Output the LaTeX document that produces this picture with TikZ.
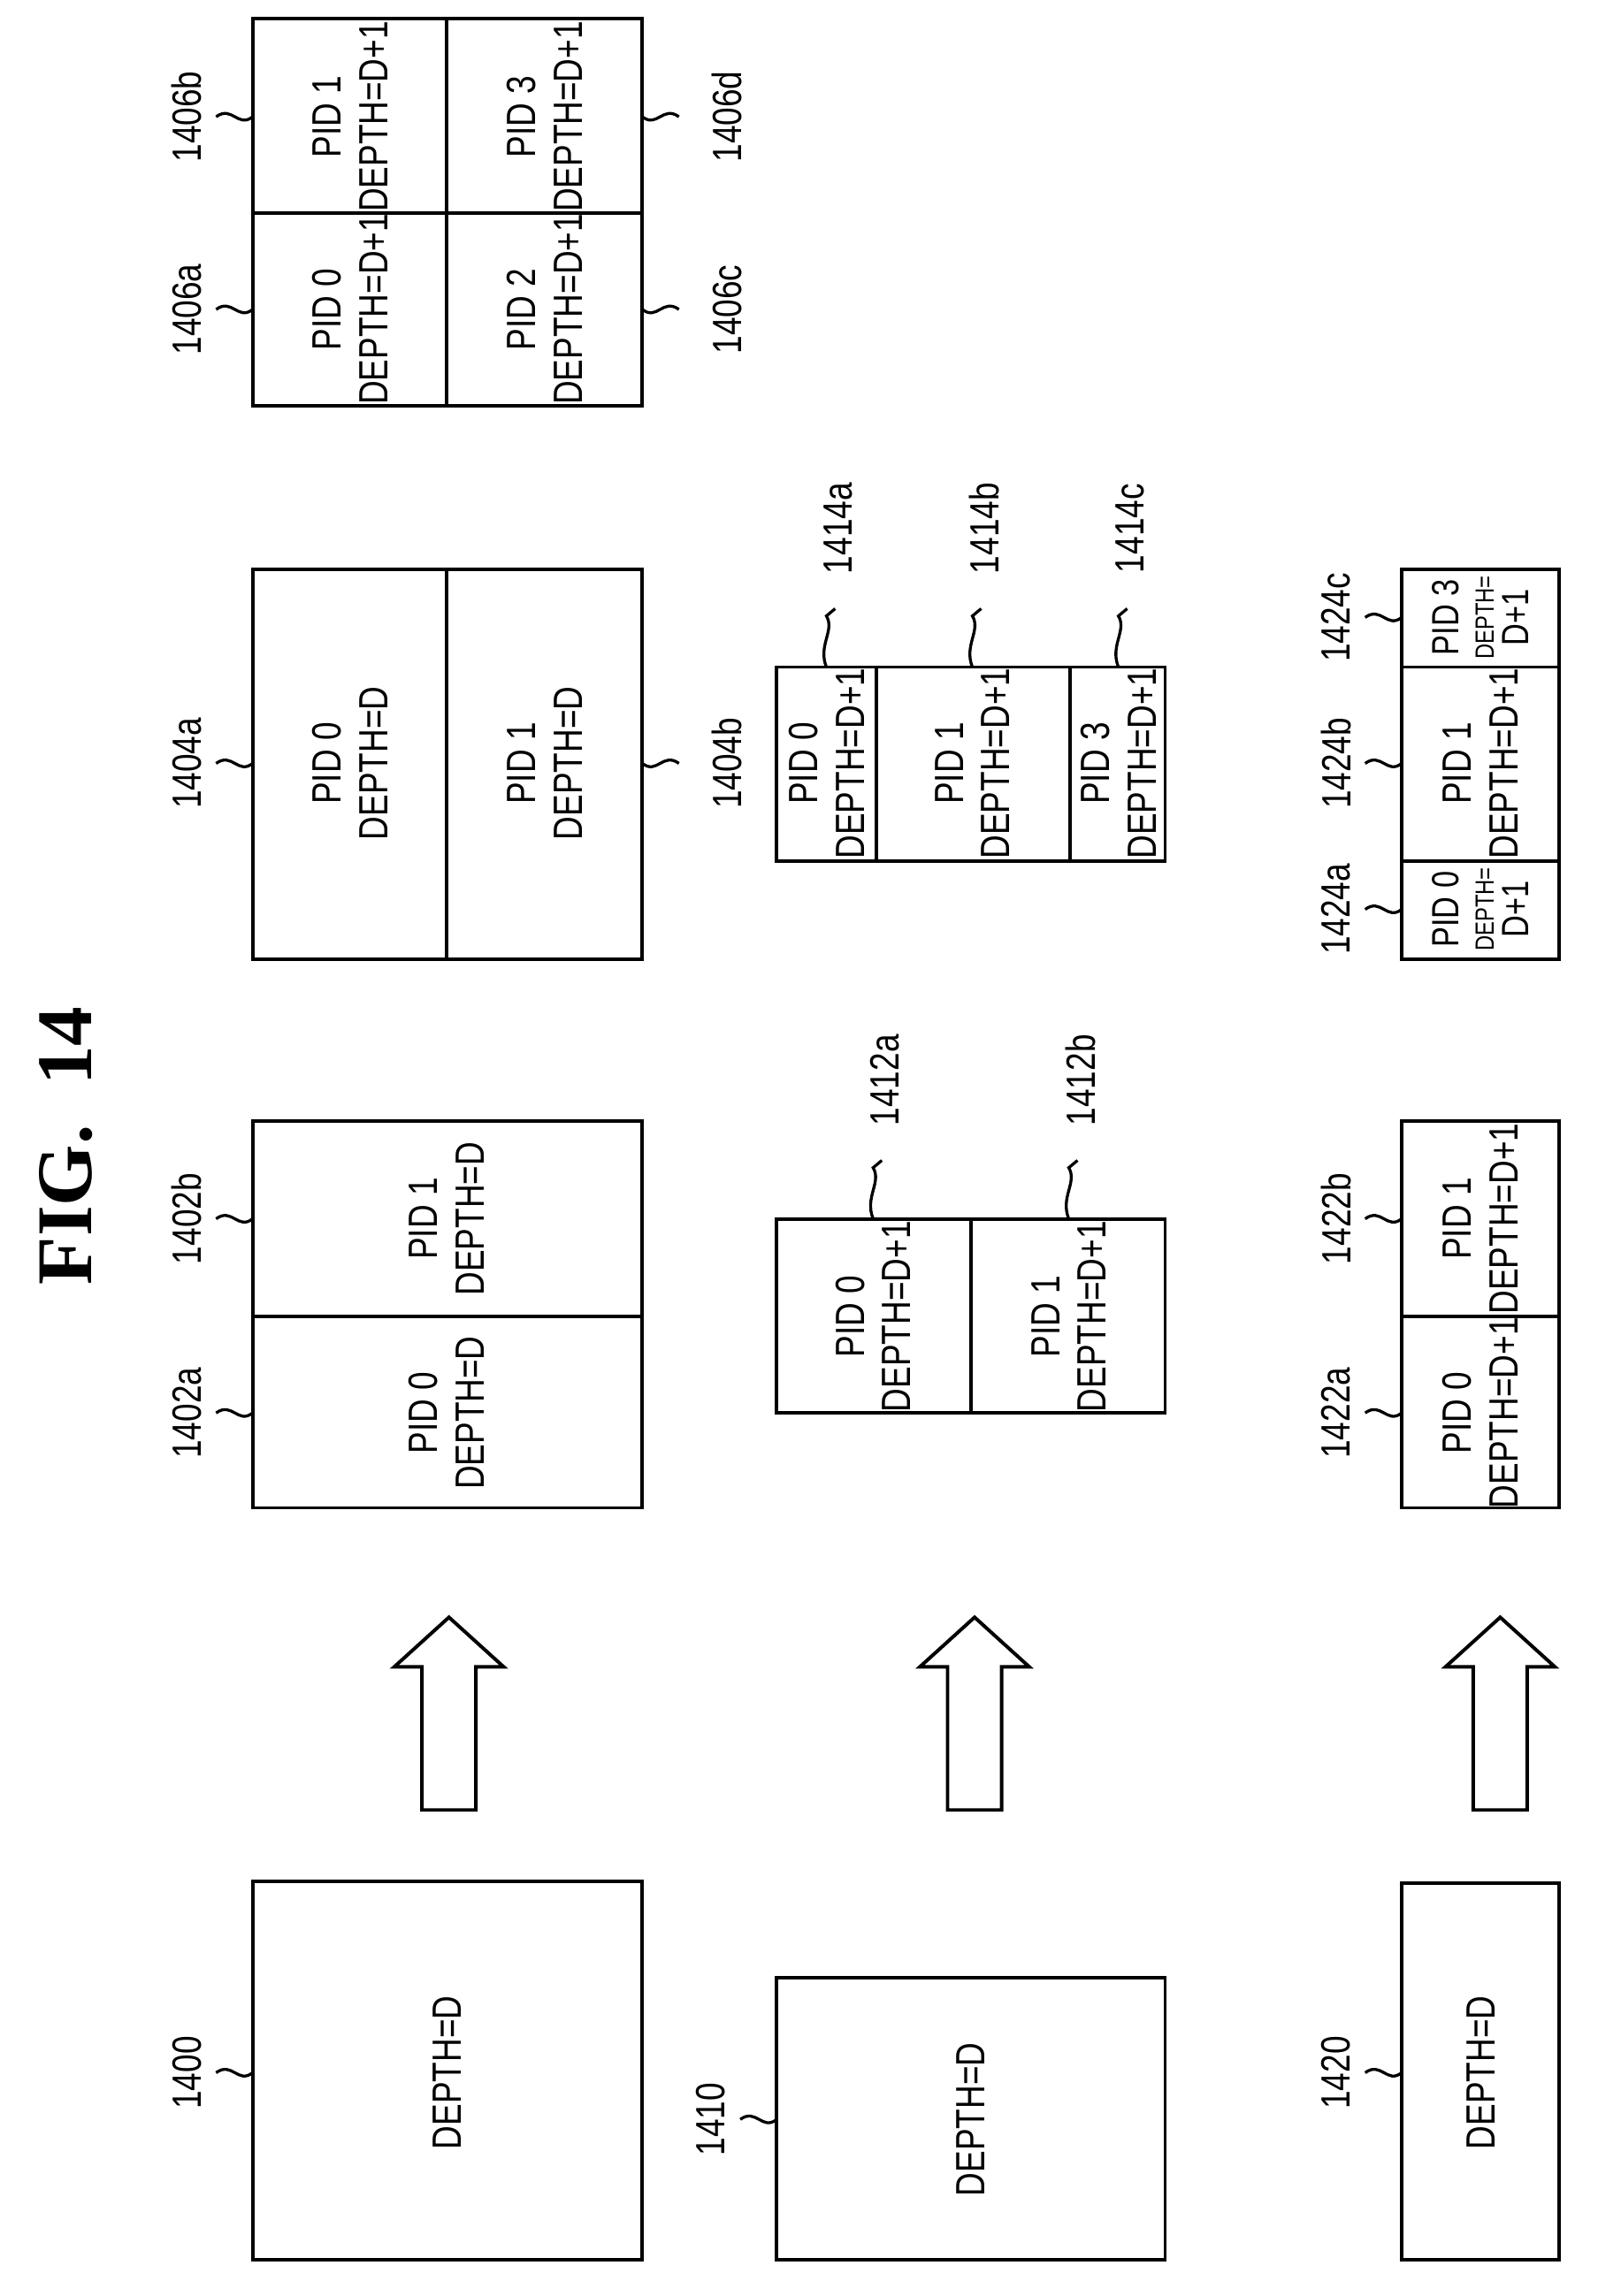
\documentclass[tikz,border=0pt]{standalone}
\usepackage{fontspec}
\setmainfont{Liberation Sans}[FakeStretch=0.8]
\newfontfamily\figfont{Liberation Serif}
\begin{document}
\begin{tikzpicture}[x=0.5pt,y=-0.5pt,
  box/.style={draw,line width=1.2pt},
  txt/.style={rotate=90,align=center,font=\fontsize{14}{16}\selectfont,inner sep=0pt},
  stxt/.style={rotate=90,align=center,font=\fontsize{10}{11}\selectfont,inner sep=0pt},
  lab/.style={rotate=90,font=\fontsize{14}{16}\selectfont,inner sep=0pt},
  ld/.style={line width=1pt},
  arr/.style={draw,line width=1.2pt}]
\useasboundingbox (0,0) rectangle (1110,1573);
\newcommand{\leftlab}[4]{% name x y text (x = box edge)
  \node[lab] (#1) at (#2-45,#3) {#4};
  \draw[ld] (#2-25,#3) .. controls (#2-14,#3-8) and (#2-10,#3+8) .. (#2,#3);}
\newcommand{\rightlab}[4]{%
  \node[lab] (#1) at (#2+58,#3) {#4};
  \draw[ld] (#2,#3) .. controls (#2+10,#3+8) and (#2+14,#3-8) .. (#2+25,#3);}
\newcommand{\toplab}[4]{%
  \node[lab] (#1) at (#2+8,#3-95) {#4};
  \draw[ld] (#2,#3) .. controls (#2-6,#3-15) and (#2+6,#3-25) .. (#2,#3-35) -- (#2+6,#3-40);}
\newcommand{\blockarrow}[2]{% name, x-left
  \draw[arr] (#2+37.5,1108) -- (#2+75,1142) -- (#2+56,1142) -- (#2+56,1240) -- (#2+19,1240) -- (#2+19,1142) -- (#2,1142) -- cycle;
  \coordinate (#1) at (#2+37.5,1175);}
% title
\node[rotate=90,font=\figfont\bfseries\fontsize{27}{30}\selectfont] (title) at (45,785) {FIG.\ \ 14};
% row 1
\draw[box] (173,1289) rectangle (440,1548);
\node[txt] (t1400) at (306,1420) {DEPTH=D};
\leftlab{l1400}{173}{1420}{1400}
\blockarrow{a1}{270}
\draw[box] (173,768) rectangle (440,1033); \draw[box] (173,902) -- (440,902);
\node[txt] (t1402a) at (306,968) {PID 0\\DEPTH=D};
\node[txt] (t1402b) at (306,835) {PID 1\\DEPTH=D};
\leftlab{l1402a}{173}{968}{1402a}
\leftlab{l1402b}{173}{835}{1402b}
\draw[box] (173,390) rectangle (440,657); \draw[box] (306,390) -- (306,657);
\node[txt] (t1404a) at (240,523) {PID 0\\DEPTH=D};
\node[txt] (t1404b) at (373,523) {PID 1\\DEPTH=D};
\leftlab{l1404a}{173}{523}{1404a}
\rightlab{l1404b}{440}{523}{1404b}
\draw[box] (173,13) rectangle (440,278); \draw[box] (306,13) -- (306,278); \draw[box] (173,146) -- (440,146);
\node[txt] (t1406a) at (240,212) {PID 0\\DEPTH=D+1};
\node[txt] (t1406b) at (240,80) {PID 1\\DEPTH=D+1};
\node[txt] (t1406c) at (373,212) {PID 2\\DEPTH=D+1};
\node[txt] (t1406d) at (373,80) {PID 3\\DEPTH=D+1};
\leftlab{l1406a}{173}{212}{1406a}
\leftlab{l1406b}{173}{80}{1406b}
\rightlab{l1406c}{440}{212}{1406c}
\rightlab{l1406d}{440}{80}{1406d}
% row 2
\draw[box] (532,1355) rectangle (798,1548);
\node[txt] (t1410) at (665,1452) {DEPTH=D};
\leftlab{l1410}{532}{1452}{1410}
\blockarrow{a2}{630}
\draw[box] (532,835) rectangle (798,968); \draw[box] (665,835) -- (665,968);
\node[txt] (t1412a) at (598,902) {PID 0\\DEPTH=D+1};
\node[txt] (t1412b) at (732,902) {PID 1\\DEPTH=D+1};
\toplab{l1412a}{598}{835}{1412a}
\toplab{l1412b}{732}{835}{1412b}
\draw[box] (532,457) rectangle (798,590); \draw[box] (600,457) -- (600,590); \draw[box] (733,457) -- (733,590);
\node[txt] (t1414a) at (566,523) {PID 0\\DEPTH=D+1};
\node[txt] (t1414b) at (666,523) {PID 1\\DEPTH=D+1};
\node[txt] (t1414c) at (766,523) {PID 3\\DEPTH=D+1};
\toplab{l1414a}{566}{457}{1414a}
\toplab{l1414b}{666}{457}{1414b}
\toplab{l1414c}{766}{457}{1414c}
% row 3
\draw[box] (960,1290) rectangle (1068,1548);
\node[txt] (t1420) at (1014,1420) {DEPTH=D};
\leftlab{l1420}{960}{1420}{1420}
\blockarrow{a3}{990}
\draw[box] (960,768) rectangle (1068,1033); \draw[box] (960,902) -- (1068,902);
\node[txt] (t1422a) at (1014,968) {PID 0\\DEPTH=D+1};
\node[txt] (t1422b) at (1014,835) {PID 1\\DEPTH=D+1};
\leftlab{l1422a}{960}{968}{1422a}
\leftlab{l1422b}{960}{835}{1422b}
\draw[box] (960,390) rectangle (1068,657); \draw[box] (960,590) -- (1068,590); \draw[box] (960,457) -- (1068,457);
\node[stxt,font=\fontsize{13}{12}\selectfont] (t1424a) at (1014,623) {PID 0\\{\fontsize{9}{10}\selectfont DEPTH=}\\D+1};
\node[txt] (t1424b) at (1014,523) {PID 1\\DEPTH=D+1};
\node[stxt,font=\fontsize{13}{12}\selectfont] (t1424c) at (1014,423) {PID 3\\{\fontsize{9}{10}\selectfont DEPTH=}\\D+1};
\leftlab{l1424a}{960}{623}{1424a}
\leftlab{l1424b}{960}{523}{1424b}
\leftlab{l1424c}{960}{423}{1424c}
\end{tikzpicture}
\end{document}
